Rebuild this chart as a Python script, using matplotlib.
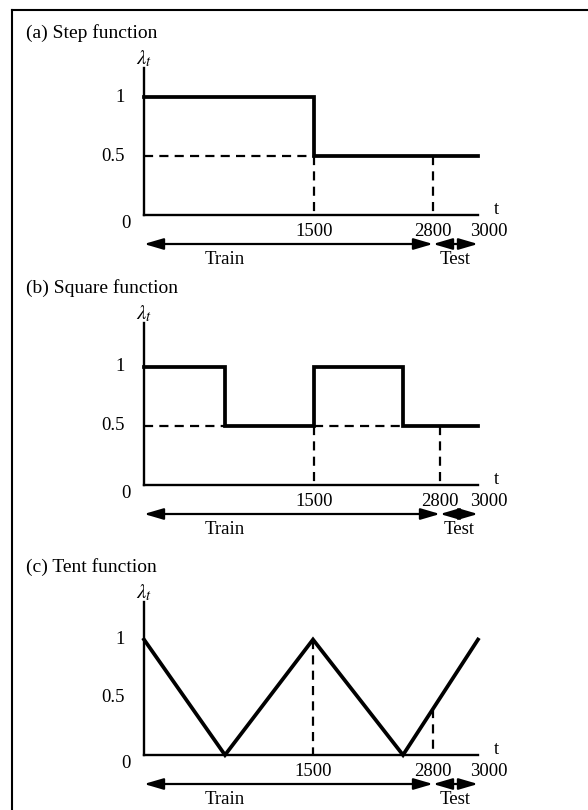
import numpy as np
import matplotlib
matplotlib.use('Agg')
import matplotlib.pyplot as plt
from matplotlib.lines import Line2D

# lambda_t breakpoints for the three drift patterns
step_t = [0, 1500, 3000]
step_lam = [1, 0.5, 0.5]
square_t = [0, 750, 1500, 2250, 3000]
square_lam = [1, 0.5, 1, 0.5, 0.5]
tent_t = [0, 750, 1500, 2250, 3000]
tent_lam = [1, 0, 1, 0, 1]

t_end = 3000
split_t = 2800          # train / test boundary
guide_t = [1500, 2800]  # dashed verticals
x_ticks = [1500, 2800, 3000]
y_ticks = [0.5, 1]
titles = ['(a) Step function', '(b) Square function', '(c) Tent function']

# dashed horizontal guides at 0.5 (start, end)
h_guides = [[(0, 1500)], [(0, 750), (1500, 2250)], []]

# the drawing is schematic: time axis is not to scale
warp_t = [0, 750, 1500, 2250, 2800, 3000]
warp_px = [[0, 81, 170, 259, 289, 334],
           [0, 81, 170, 259, 296, 334],
           [0, 81, 169, 259, 289, 334]]

W, H, DPI = 588, 810, 100
PT = 72.0 / DPI  # points per pixel

plt.rcParams['font.family'] = ['Liberation Serif', 'DejaVu Serif']
plt.rcParams['mathtext.fontset'] = 'stix'

panels = [(step_t, step_lam, 'steps-post'),
          (square_t, square_lam, 'steps-post'),
          (tent_t, tent_lam, 'default')]
ax_bottom = [215, 485, 755]
ax_top = [68, 323, 602]
y_top = [1.25, 1.37, 1.325]
AX_LEFT, AX_W = 144, 334


def make_warp(px):
    fwd = lambda t: np.interp(t, warp_t, px)
    inv = lambda p: np.interp(p, px, warp_t)
    return fwd, inv


def lam_at(t, ts, lams, ds, fwd):
    """height of the curve under a dashed guide (lower side of a jump)"""
    if ds == 'steps-post':
        i = np.searchsorted(ts, t, side='right') - 1
        before = lams[np.searchsorted(ts, t, side='left') - 1]
        return min(lams[i], before)
    # straight segments are straight on screen, so interpolate there
    return np.interp(fwd(t), fwd(np.array(ts)), lams)


def span_arrow(ax, t0, t1, dy):
    ax.annotate('', xy=(t1, dy), xytext=(t0, dy),
                xycoords=('data', 'axes points'), textcoords=('data', 'axes points'),
                arrowprops=dict(arrowstyle='<|-|>,head_length=0.58,head_width=0.17',
                                mutation_scale=20, lw=1.6, color='k',
                                shrinkA=0, shrinkB=0),
                annotation_clip=False)


fig = plt.figure(figsize=(W / DPI, H / DPI), dpi=DPI)

for i, (ts, lams, ds) in enumerate(panels):
    b, top = ax_bottom[i], ax_top[i]
    ax = fig.add_axes([AX_LEFT / W, 1 - b / H, AX_W / W, (b - top) / H])
    fwd, inv = make_warp(warp_px[i])
    ax.set_xscale('function', functions=(fwd, inv))
    ax.set_xlim(0, t_end)
    ax.set_ylim(0, y_top[i])
    ax.spines[['top', 'right']].set_visible(False)
    ax.spines[['left', 'bottom']].set_linewidth(1.7)
    ax.set_xticks([])
    ax.set_yticks([])
    ax.tick_params(length=0)

    # dashed guides
    for (h0, h1) in h_guides[i]:
        ax.plot([h0, h1], [0.5, 0.5], color='k', lw=1.6, dashes=(4.1, 2.8), clip_on=False)
    for g in guide_t:
        v = lam_at(g, ts, lams, ds, fwd)
        ax.plot([g, g], [v, 0], color='k', lw=1.6, dashes=(4.1, 2.8), clip_on=False)

    ax.plot(ts, lams, color='k', lw=2.7, drawstyle=ds, solid_joinstyle='miter',
            clip_on=False, zorder=3)

    # tick labels
    for xt in x_ticks:
        dx = 11 if xt == t_end else 0
        ax.annotate(str(xt), xy=(xt, 0), xytext=(dx * PT, -17 * PT),
                    textcoords='offset points', ha='center', va='center', fontsize=13.5)
    for yt in y_ticks:
        ax.annotate('{:g}'.format(yt), xy=(0, yt), xytext=(-19 * PT, 0),
                    textcoords='offset points', ha='right', va='center', fontsize=13.5)
    ax.annotate('0', xy=(0, 0), xytext=(-13 * PT, -8 * PT),
                textcoords='offset points', ha='right', va='center', fontsize=13.5)
    ax.annotate(r'$\lambda_t$', xy=(0, 1), xycoords='axes fraction', xytext=(0, 9 * PT),
                textcoords='offset points', ha='center', va='center', fontsize=15)
    ax.annotate('t', xy=(1, 0), xycoords='axes fraction', xytext=(18 * PT, 6 * PT),
                textcoords='offset points', ha='center', va='center', fontsize=13.5)

    # train / test windows
    span_arrow(ax, 0, split_t, -29 * PT)
    span_arrow(ax, split_t, t_end, -29 * PT)
    ax.annotate('Train', xy=(750, 0), xytext=(0, -45 * PT), textcoords='offset points',
                ha='center', va='center', fontsize=13.5)
    test_mid = inv((fwd(split_t) + fwd(t_end)) / 2.0)
    ax.annotate('Test', xy=(test_mid, 0), xytext=(0, -45 * PT), textcoords='offset points',
                ha='center', va='center', fontsize=13.5)

    fig.text(26 / W, 1 - (top - 35) / H, titles[i], ha='left', va='center', fontsize=14)

# page frame (left and top edges)
fig.add_artist(Line2D([12 / W, 12 / W], [1 - 10 / H, 0], transform=fig.transFigure, color='k', lw=1.5))
fig.add_artist(Line2D([12 / W, 1], [1 - 10 / H, 1 - 10 / H], transform=fig.transFigure, color='k', lw=1.5))

fig.savefig('out.png', dpi=DPI)
